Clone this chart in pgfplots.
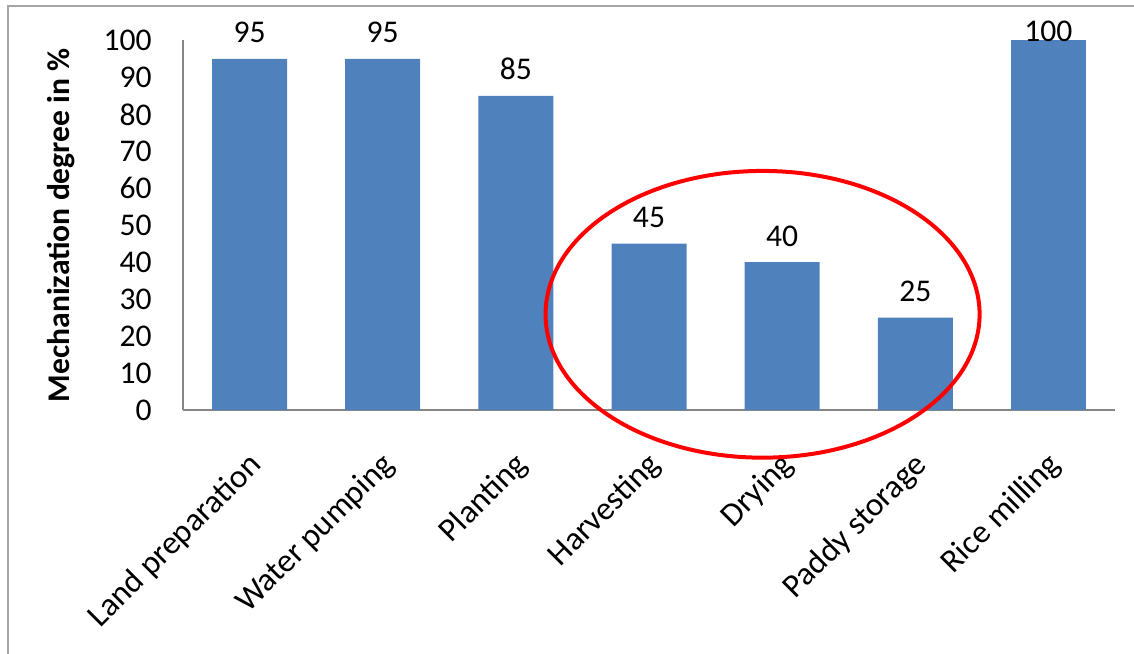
\documentclass[border=0pt]{standalone}
\usepackage{fontspec}
\setmainfont{Carlito}
\usepackage{pgfplots}
\pgfplotsset{compat=1.18}
\definecolor{barblue}{HTML}{4F81BD}
\definecolor{axisgray}{HTML}{868686}
\definecolor{framegray}{HTML}{A6A6A6}
\newcommand{\lblfont}{\fontsize{15.8}{18}\selectfont}
\newcommand{\catfont}{\fontsize{16.5}{19}\selectfont}
\begin{document}
\begin{tikzpicture}
\path[use as bounding box] (-91.5pt,-121.5pt) rectangle (475.5pt,205pt);
\begin{axis}[
  at={(0,0)}, anchor=south west,
  scale only axis, width=466pt, height=184.75pt,
  xmin=-0.5, xmax=6.5, ymin=0, ymax=100,
  axis x line*=bottom, axis y line*=left,
  axis line style={axisgray, line width=0.8pt, -},
  xtick={0,...,6},
  xticklabels={Land preparation, Water pumping, Planting, Harvesting, Drying, Paddy storage, Rice milling},
  ytick={0,10,...,100},
  major tick length=0pt,
  /pgf/number format/assume math mode=true,
  yticklabel style={font=\lblfont, anchor=east, inner sep=0pt, xshift=-15.5pt},
  % shifts are given in the rotated frame of the label
  xticklabel style={font=\catfont, rotate=45, anchor=east, inner sep=0pt, xshift=-15.2pt, yshift=-20.2pt},
  every axis y label/.style={at={([xshift=-61pt]axis description cs:0,0.5)}, rotate=90, anchor=center, font=\bfseries\lblfont},
  ylabel={Mechanization degree in \%},
  ybar, bar width=37.5pt,
  clip=false,
  nodes near coords,
  nodes near coords style={font=\lblfont, inner sep=0pt, anchor=south, text=black},
]
\addplot[fill=barblue, draw=none, bar shift=0pt,
  nodes near coords style={yshift=7.75pt}]
  coordinates {(0,95) (1,95) (2,85) (3,45) (4,40) (5,25)};
\addplot[fill=barblue, draw=none, bar shift=0pt,
  nodes near coords style={yshift=-1pt}]
  coordinates {(6,100)};
% highlight around the three weakly mechanised stages
\draw[red, line width=2pt] (axis cs:3.853,25.9) ellipse [x radius=1.63, y radius=38.8];
\end{axis}
\draw[framegray, line width=1pt] (-87.5pt,-130pt) -- (-87.5pt,202pt) -- (480pt,202pt);
\end{tikzpicture}
\end{document}
